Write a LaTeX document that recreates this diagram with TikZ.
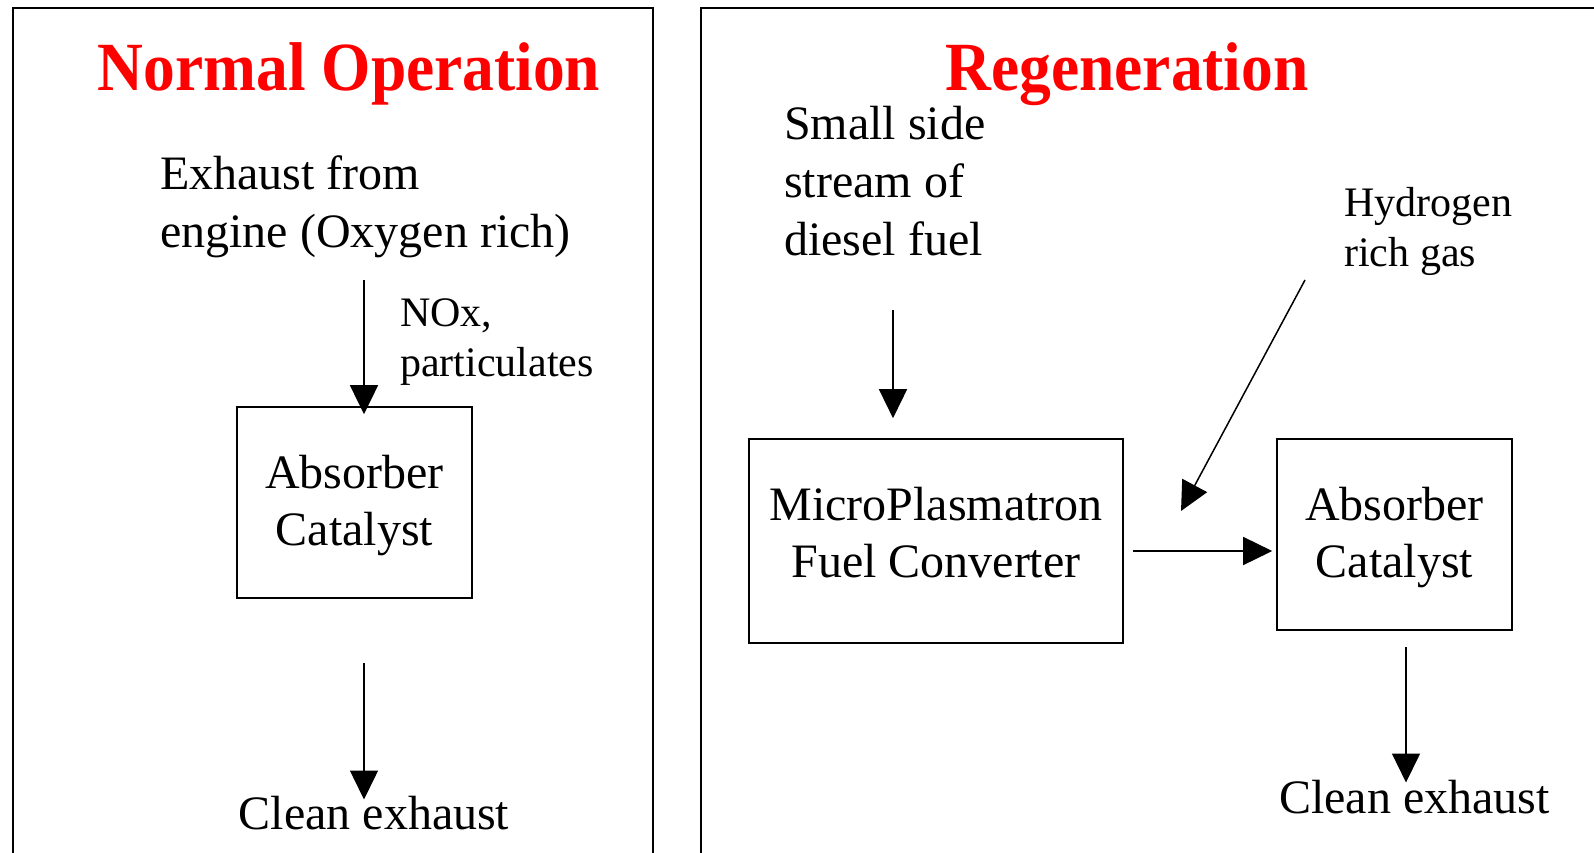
\documentclass[tikz,border=0pt]{standalone}
\usepackage{fontspec}
\setmainfont{Liberation Serif}
\newfontfamily\titlefont[FakeStretch=0.92]{Liberation Serif}
\usetikzlibrary{arrows.meta,calc}
\begin{document}
\begin{tikzpicture}[x=1pt,y=-1pt,
  titletext/.style={font=\titlefont\bfseries\fontsize{69}{80}\selectfont,text=red,inner sep=0pt,anchor=base},
  bigtext/.style={font=\fontsize{48}{58}\selectfont,inner sep=0pt,align=left,anchor=base west},
  smalltext/.style={font=\fontsize{42}{50}\selectfont,inner sep=0pt,align=left,anchor=base west},
  boxnode/.style={draw,line width=1.6pt,inner sep=0pt},
  boxtext/.style={font=\fontsize{48}{57}\selectfont,align=center,inner sep=0pt},
  frame/.style={draw,line width=1.8pt},
  arr/.style={line width=1.5pt,-{Triangle[width=28pt,length=29pt]}}
]
\useasboundingbox (0,0) rectangle (1594,853);
\clip (0,0) rectangle (1594,853);
% frames
\draw[frame] (13,860) -- (13,8) -- (653,8) -- (653,860);
\draw[frame] (701,860) -- (701,8) -- (1600,8);
% left panel
\node[titletext] (t1) at (349,91) {Normal Operation};
\node[bigtext] (exh) at (160,247) {Exhaust from\\engine (Oxygen rich)};
\node[smalltext] (nox) at (400,376) {NOx,\\particulates};
\node[boxnode,minimum width=235pt,minimum height=191pt] (abs1) at (354.5,502.5) {};
\node[boxtext] (abs1t) at ([yshift=-3pt]abs1.center) {Absorber\\Catalyst};
\node[font=\fontsize{48}{58}\selectfont,inner sep=0pt,anchor=base] (clean1) at (374,829) {Clean exhaust};
\coordinate (c1) at (364,280);
\coordinate (c2) at (364,663);
\draw[arr,shorten >=-8pt] (c1) -- (c1 |- abs1.north);
\draw[arr,shorten >=-4pt] (c2) -- (c2 |- clean1.north);
% right panel
\node[titletext] (t2) at (1127,91) {Regeneration};
\node[bigtext] (side) at (784,255) {Small side\\stream of\\diesel fuel};
\node[smalltext] (hyd) at (1344,266) {Hydrogen\\rich gas};
\node[boxnode,minimum width=374pt,minimum height=204pt] (mpc) at (936,541) {};
\node[boxtext] (mpct) at ([yshift=8pt]mpc.center) {MicroPlasmatron\\Fuel Converter};
\node[boxnode,minimum width=235pt,minimum height=191pt] (abs2) at (1394.5,534.5) {};
\node[boxtext] (abs2t) at ([yshift=-3pt]abs2.center) {Absorber\\Catalyst};
\node[font=\fontsize{48}{58}\selectfont,inner sep=0pt,anchor=base] (clean2) at (1414.5,813) {Clean exhaust};
\coordinate (c3) at (893,310);
\coordinate (c4) at (1406,647);
\coordinate (h1) at (1305,280);
\coordinate (h2) at (1181,511);
\draw[arr,shorten >=20pt] (c3) -- (c3 |- mpc.north);
\draw[arr,shorten <=9pt,shorten >=4pt] ([yshift=-10pt]mpc.east) -- ([yshift=-10pt]mpc.east -| abs2.west);
\draw[arr] (h1) -- (h2);
\draw[arr,shorten >=-3pt] (c4) -- (c4 |- clean2.north);
\end{tikzpicture}
\end{document}
